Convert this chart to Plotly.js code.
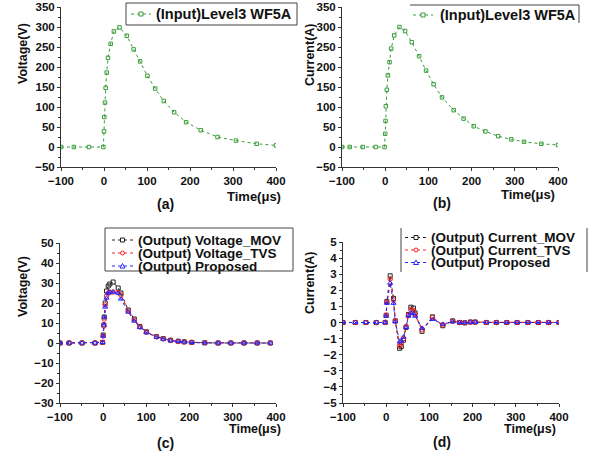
<!DOCTYPE html>
<html>
<head>
<meta charset="utf-8">
<script src="https://cdn.plot.ly/plotly-3.0.1.min.js"></script>
<style>html,body{margin:0;padding:0;background:#fff;}#chart{width:593px;height:456px;}</style>
</head>
<body>
<div id="chart"></div>
<script>
// ---- data ----
const aX = [-100, -70, -35, -1.5, 0, 0.8, 2.3, 3.9, 6.2, 9.3, 15.5, 23, 36, 53, 69, 84, 101, 119, 139, 163, 191, 225, 264, 307, 355, 400];
const aY = [0, 0, 0, 0, 39, 75, 111, 148, 186, 223, 258, 289, 299, 278, 244, 214, 178, 146, 115, 87, 62, 42, 25, 16, 8, 4];

const bX = [-100, -82, -52, -22, -1.5, 0, 0.8, 1.5, 3.8, 6.2, 10, 13.8, 20.8, 33, 46, 61.5, 78.5, 94.6, 112, 131.5, 158.5, 181.5, 205, 232, 261.5, 292, 321.5, 361.5, 400];
const bY = [0, 0, 0, 0, 0, 33, 65, 102, 143, 179, 212, 246, 279, 300, 290, 262, 227, 191, 157, 124, 92, 71, 52, 39, 27, 19, 13, 8, 5];

const cX = [-100, -79, -49, -19, -1.5, 0, 1.5, 2.5, 4.6, 7.7, 11.6, 15.4, 23, 34.7, 41, 58, 72, 85, 100, 123.5, 139, 156, 173.6, 187.5, 205, 235, 266, 295.5, 326, 356.5, 387];
const cMOV = [0, 0, 0, 0, 0.3, 4, 9, 13, 20, 26, 28.5, 29.5, 30.5, 27.5, 25, 16.5, 12, 8.3, 5.6, 3.2, 2.2, 1.4, 0.9, 0.6, 0.3, 0.1, 0, 0, 0, 0, 0];
const cTVS = [0, 0, 0, 0, 0.3, 3.5, 8.5, 12, 19, 23.5, 25, 25.3, 25.5, 25.2, 24, 16, 11.5, 8, 5.4, 3.1, 2.1, 1.3, 0.8, 0.5, 0.3, 0.1, 0, 0, 0, 0, 0];
const cPro = [0, 0, 0, 0, 0.3, 3.5, 9, 13, 18, 22.5, 25, 25.5, 25.5, 25, 22, 15.5, 11, 7.8, 5.2, 3, 2, 1.2, 0.8, 0.5, 0.3, 0.1, 0, 0, 0, 0, 0];

const dX = [-100, -71.5, -47, -23, -2.3, 0, 1.5, 9.2, 17, 21, 31, 35, 40, 46, 51.5, 57, 63, 67, 83, 107, 131, 154, 170, 182, 195, 206, 232, 255, 279, 303, 328, 352, 376, 400];
const dMOV = [0, 0, 0, 0, 0, 0.45, 1.3, 2.9, 1.5, 0.1, -1.6, -1.5, -1.1, -0.3, 0.5, 0.95, 0.9, 0.6, -0.55, 0.35, -0.2, 0.1, 0, -0.02, 0.03, 0.03, 0, 0, 0, 0, 0, 0, 0, 0];
const dTVS = [0, 0, 0, 0, 0, 0.45, 1.25, 2.7, 1.4, 0.1, -1.45, -1.35, -1.0, -0.25, 0.45, 0.8, 0.75, 0.5, -0.45, 0.3, -0.15, 0.08, 0, -0.02, 0.02, 0.02, 0, 0, 0, 0, 0, 0, 0, 0];
const dPro = [0, 0, 0, 0, 0, 0.4, 1.2, 2.45, 1.2, 0.05, -1.2, -1.15, -0.9, -0.3, 0.4, 0.6, 0.55, 0.4, -0.35, 0.2, -0.1, 0.05, 0, -0.01, 0.02, 0.02, 0, 0, 0, 0, 0, 0, 0, 0];

const inputName = "(Input)Level3 WF5A";
const cNames = ["(Output) Voltage_MOV", "(Output) Voltage_TVS", "(Output) Proposed"];
const dNames = ["(Output) Current_MOV", "(Output) Current_TVS", "(Output) Proposed"];
const panelLabels = ["(a)", "(b)", "(c)", "(d)"];
const xTitle = "Time(μs)";
const yTitles = ["Voltage(V)", "Current(A)", "Voltage(V)", "Current(A)"];

// ---- styling ----
const W = 593, H = 456;
const px = x => x / W, py = y => 1 - y / H;
const FONT = "Liberation Sans, Arial, sans-serif";
const GREEN = "#3a9d3a", BLACK = "#222222", RED = "#ff2020", BLUE = "#2424ff";

function tr(x, y, color, symbol, xa, ya, size, lw) {
  return {x: x, y: y, type: "scatter", mode: "lines+markers", xaxis: xa, yaxis: ya, showlegend: false,
    line: {color: color, width: lw || 1, dash: "dot"},
    marker: {symbol: symbol, size: size || 4, color: color, line: {color: color, width: 1}}};
}

const data = [
  tr(aX, aY, GREEN, "square-open", "x", "y", 3.5),
  tr(bX, bY, GREEN, "square-open", "x2", "y2", 3.5),
  tr(cX, cMOV, BLACK, "square-open", "x3", "y3", 4),
  tr(cX, cTVS, RED, "circle-open", "x3", "y3", 4.5, 1.2),
  tr(cX, cPro, BLUE, "triangle-up-open", "x3", "y3", 4.5),
  tr(dX, dMOV, BLACK, "square-open", "x4", "y4", 4),
  tr(dX, dTVS, RED, "circle-open", "x4", "y4", 4.5, 1.2),
  tr(dX, dPro, BLUE, "triangle-up-open", "x4", "y4", 4.5)
];

function axis(dom, range, dtick, minor, anchor) {
  return {domain: dom, range: range, dtick: dtick, tick0: 0, anchor: anchor,
    showline: true, linecolor: "#333", linewidth: 1, ticks: "outside", ticklen: 3, tickwidth: 1, tickcolor: "#333",
    showgrid: false, zeroline: false, fixedrange: true,
    tickfont: {family: FONT, size: 11.5, color: "#111", weight: "bold"},
    minor: {ticks: "outside", ticklen: 2, dtick: minor, tick0: 0, tickcolor: "#333", showgrid: false}};
}

const layout = {
  width: W, height: H, autosize: false,
  margin: {l: 0, r: 0, t: 0, b: 0},
  paper_bgcolor: "#fff", plot_bgcolor: "rgba(0,0,0,0)",
  showlegend: false,
  font: {family: FONT},
  xaxis: axis([px(61), px(276)], [-100, 400], 100, 50, "y"),
  yaxis: axis([py(167), py(7)], [-50, 350], 50, 25, "x"),
  xaxis2: axis([px(342), px(558)], [-100, 400], 100, 50, "y2"),
  yaxis2: axis([py(167), py(7)], [-50, 350], 50, 25, "x2"),
  xaxis3: axis([px(60), px(276)], [-100, 400], 100, 50, "y3"),
  yaxis3: axis([py(403), py(243)], [-30, 50], 10, 5, "x3"),
  xaxis4: axis([px(343), px(559)], [-100, 400], 100, 50, "y4"),
  yaxis4: axis([py(403), py(242)], [-5, 5], 1, 0.5, "x4"),
  shapes: [],
  annotations: []
};

function ann(text, x, y, size, xanchor, angle) {
  layout.annotations.push({text: text, x: px(x), y: py(y), xref: "paper", yref: "paper",
    xanchor: xanchor || "center", yanchor: "middle", showarrow: false, textangle: angle || 0,
    font: {family: FONT, size: size, color: "#111", weight: "bold"}});
}
function line(x0, y0, x1, y1, color, dash) {
  layout.shapes.push({type: "line", xref: "paper", yref: "paper", x0: px(x0), y0: py(y0), x1: px(x1), y1: py(y1),
    line: {color: color, width: 1, dash: dash || "solid"}});
}
function sym(kind, cx, cy, color) {
  const r = 2;
  const base = {xref: "paper", yref: "paper", line: {color: color, width: 1}, fillcolor: "#fff", layer: "above"};
  if (kind === "square") layout.shapes.push(Object.assign({type: "rect", x0: px(cx - r), x1: px(cx + r), y0: py(cy + r), y1: py(cy - r)}, base));
  else if (kind === "circle") layout.shapes.push(Object.assign({type: "circle", x0: px(cx - r), x1: px(cx + r), y0: py(cy + r), y1: py(cy - r)}, base));
  else layout.shapes.push(Object.assign({type: "path",
    path: "M" + px(cx - 2.5) + "," + py(cy + 2) + " L" + px(cx + 2.5) + "," + py(cy + 2) + " L" + px(cx) + "," + py(cy - 2.5) + " Z"}, base));
}
function entry(x0, x1, y, color, kind, text, tx, size) {
  line(x0, y, x1, y, color, "dot");
  sym(kind, (x0 + x1) / 2, y, color);
  ann(text, tx, y, size, "left");
}

// legend (a)
layout.shapes.push({type: "rect", xref: "paper", yref: "paper", x0: px(126), x1: px(297), y0: py(25), y1: py(3), line: {color: "#444", width: 1}});
entry(131, 151, 14, GREEN, "square", inputName, 154, 14.5);
// legend (b)
line(410, 5, 579, 5, "#444");
line(579, 5, 579, 23, "#444");
entry(413, 433, 15, GREEN, "square", inputName, 438, 14.5);
// legend (c)
layout.shapes.push({type: "rect", xref: "paper", yref: "paper", x0: px(105), x1: px(293), y0: py(271), y1: py(228), line: {color: "#444", width: 1}});
const cCols = [BLACK, RED, BLUE], kinds = ["square", "circle", "tri"];
[240, 253, 266].forEach((y, i) => entry(112, 133, y, cCols[i], kinds[i], cNames[i], 136, 13.5));
// legend (d)
line(401, 228, 401, 272, "#444");
line(587, 228, 587, 272, "#444");
[237.5, 250, 262.5].forEach((y, i) => entry(405, 427, y, cCols[i], kinds[i], dNames[i], 429, 13.5));

// axis titles and panel labels
ann(xTitle, 283, 196, 13, "right");
ann(xTitle, 557, 194, 13, "right");
ann(xTitle, 283, 429, 12.5, "right");
ann(xTitle, 558, 429, 12.5, "right");
ann(yTitles[0], 23, 54, 12.5, "center", -90);
ann(yTitles[1], 310, 55, 12.5, "center", -90);
ann(yTitles[2], 23, 287, 12.5, "center", -90);
ann(yTitles[3], 310, 283, 12.5, "center", -90);
ann(panelLabels[0], 165, 204, 14);
ann(panelLabels[1], 442, 203, 14);
ann(panelLabels[2], 166, 443, 14);
ann(panelLabels[3], 442, 442, 14);

Plotly.newPlot("chart", data, layout, {staticPlot: true, displayModeBar: false});
</script>
</body>
</html>
